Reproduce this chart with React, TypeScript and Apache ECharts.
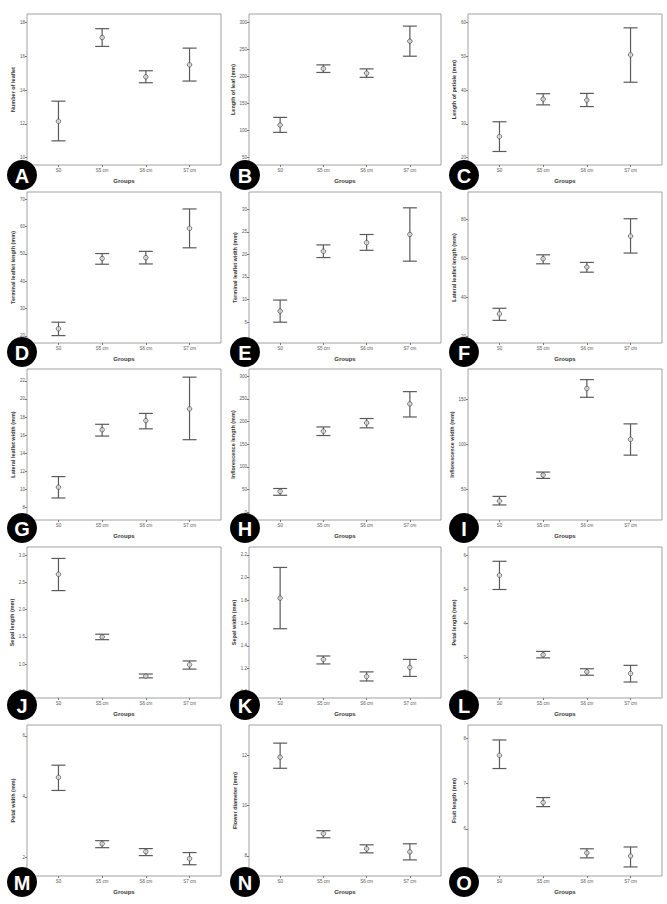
import React, { useEffect, useRef } from "react";
import * as echarts from "echarts";

const categories = ["S0", "S5 cm", "S6 cm", "S7 cm"];

const leafletMean = [12.15, 17.11, 14.78, 15.49];
const leafletLow = [10.99, 16.58, 14.43, 14.53];
const leafletHigh = [13.34, 17.63, 15.14, 16.48];
const leafletTicks = [10, 12, 14, 16, 18];

const leafLenMean = [109.9, 214, 205.6, 264.8];
const leafLenLow = [96.3, 207, 198, 237];
const leafLenHigh = [124, 221, 213.6, 292.6];
const leafLenTicks = [50, 100, 150, 200, 250, 300];

const petioleMean = [26.2, 37.3, 37.0, 50.4];
const petioleLow = [21.8, 35.6, 35.1, 42.3];
const petioleHigh = [30.6, 38.9, 39.0, 58.4];
const petioleTicks = [20, 30, 40, 50, 60];

const termLenMean = [22.6, 48.3, 48.6, 59.3];
const termLenLow = [20.1, 46.2, 46.3, 52.2];
const termLenHigh = [25.0, 50.1, 50.9, 66.4];
const termLenTicks = [20, 30, 40, 50, 60, 70];

const termWidMean = [7.45, 20.7, 22.6, 24.4];
const termWidLow = [5.0, 19.3, 20.9, 18.5];
const termWidHigh = [9.9, 22.1, 24.4, 30.3];
const termWidTicks = [5, 10, 15, 20, 25, 30];

const latLenMean = [31.5, 59.8, 55.5, 71.4];
const latLenLow = [28.2, 57.2, 52.9, 62.7];
const latLenHigh = [34.4, 61.8, 57.9, 80.3];
const latLenTicks = [20, 40, 60, 80];

const latWidMean = [10.26, 16.6, 17.6, 18.9];
const latWidLow = [9.07, 15.9, 16.7, 15.5];
const latWidHigh = [11.43, 17.2, 18.4, 22.4];
const latWidTicks = [8, 10, 12, 14, 16, 18, 20, 22];

const inflLenMean = [45.6, 178.7, 197, 239];
const inflLenLow = [37, 169, 186, 210];
const inflLenHigh = [52, 188, 206.6, 266];
const inflLenTicks = [0, 50, 100, 150, 200, 250, 300];

const inflWidMean = [37, 65.9, 162, 105.5];
const inflWidLow = [32.7, 62.2, 152.2, 88];
const inflWidHigh = [42.2, 69.2, 171.8, 122.7];
const inflWidTicks = [50, 100, 150];

const sepLenMean = [2.65, 1.5, 0.78, 0.99];
const sepLenLow = [2.35, 1.45, 0.75, 0.91];
const sepLenHigh = [2.94, 1.55, 0.82, 1.06];
const sepLenTicks = [0.5, 1.0, 1.5, 2.0, 2.5, 3.0];

const sepWidMean = [1.82, 1.28, 1.13, 1.21];
const sepWidLow = [1.55, 1.24, 1.09, 1.13];
const sepWidHigh = [2.09, 1.31, 1.17, 1.28];
const sepWidTicks = [1.0, 1.2, 1.4, 1.6, 1.8, 2.0, 2.2];

const petLenMean = [5.42, 3.08, 2.58, 2.53];
const petLenLow = [5.0, 2.99, 2.48, 2.28];
const petLenHigh = [5.83, 3.18, 2.67, 2.77];
const petLenTicks = [2, 3, 4, 5, 6];

const petWidMean = [4.64, 2.46, 2.2, 1.97];
const petWidLow = [4.21, 2.33, 2.07, 1.77];
const petWidHigh = [5.04, 2.56, 2.3, 2.17];
const petWidTicks = [2, 4, 6];

const flowerMean = [11.92, 8.88, 8.28, 8.16];
const flowerLow = [11.48, 8.72, 8.12, 7.84];
const flowerHigh = [12.48, 9.0, 8.44, 8.48];
const flowerTicks = [8, 10, 12];

const fruitMean = [7.62, 6.58, 5.47, 5.4];
const fruitLow = [7.33, 6.49, 5.36, 5.16];
const fruitHigh = [7.96, 6.69, 5.56, 5.6];
const fruitTicks = [5, 6, 7, 8];

type Panel = {
  letter: string;
  name: string;
  mean: number[];
  low: number[];
  high: number[];
  ticks: number[];
  min: number;
  max: number;
  dec: number;
};

const panels: Panel[] = [
  { letter: "A", name: "Number of leaflet", mean: leafletMean, low: leafletLow, high: leafletHigh, ticks: leafletTicks, min: 9.56, max: 18.5, dec: 0 },
  { letter: "B", name: "Length of leaf (mm)", mean: leafLenMean, low: leafLenLow, high: leafLenHigh, ticks: leafLenTicks, min: 36, max: 315, dec: 0 },
  { letter: "C", name: "Length of petiole (mm)", mean: petioleMean, low: petioleLow, high: petioleHigh, ticks: petioleTicks, min: 17.8, max: 62.5, dec: 0 },
  { letter: "D", name: "Terminal leaflet length (mm)", mean: termLenMean, low: termLenLow, high: termLenHigh, ticks: termLenTicks, min: 17.4, max: 72.6, dec: 0 },
  { letter: "E", name: "Terminal leaflet width (mm)", mean: termWidMean, low: termWidLow, high: termWidHigh, ticks: termWidTicks, min: 0.4, max: 33.8, dec: 0 },
  { letter: "F", name: "Lateral leaflet length (mm)", mean: latLenMean, low: latLenLow, high: latLenHigh, ticks: latLenTicks, min: 16.6, max: 94, dec: 0 },
  { letter: "G", name: "Lateral leaflet width (mm)", mean: latWidMean, low: latWidLow, high: latWidHigh, ticks: latWidTicks, min: 6.64, max: 23.3, dec: 0 },
  { letter: "H", name: "Inflorescence length (mm)", mean: inflLenMean, low: inflLenLow, high: inflLenHigh, ticks: inflLenTicks, min: -17.6, max: 316, dec: 0 },
  { letter: "I", name: "Inflorescence width (mm)", mean: inflWidMean, low: inflWidLow, high: inflWidHigh, ticks: inflWidTicks, min: 16, max: 183.6, dec: 0 },
  { letter: "J", name: "Sepal length (mm)", mean: sepLenMean, low: sepLenLow, high: sepLenHigh, ticks: sepLenTicks, min: 0.38, max: 3.15, dec: 1 },
  { letter: "K", name: "Sepal width (mm)", mean: sepWidMean, low: sepWidLow, high: sepWidHigh, ticks: sepWidTicks, min: 0.94, max: 2.27, dec: 1 },
  { letter: "L", name: "Petal length (mm)", mean: petLenMean, low: petLenLow, high: petLenHigh, ticks: petLenTicks, min: 1.81, max: 6.25, dec: 0 },
  { letter: "M", name: "Petal width (mm)", mean: petWidMean, low: petWidLow, high: petWidHigh, ticks: petWidTicks, min: 1.4, max: 6.36, dec: 0 },
  { letter: "N", name: "Flower diameter (mm)", mean: flowerMean, low: flowerLow, high: flowerHigh, ticks: flowerTicks, min: 7.2, max: 13.2, dec: 0 },
  { letter: "O", name: "Fruit length (mm)", mean: fruitMean, low: fruitLow, high: fruitHigh, ticks: fruitTicks, min: 4.96, max: 8.29, dec: 0 },
];

const colLeft = [27, 249, 468];
const colWidth = [194, 192, 194];
const rowTop = [14, 192, 369, 547, 725];
const boxHeight = 151;
const circleX = [22, 245, 464];
const circleY = [175, 352, 528, 705, 882];

const FONT = "Liberation Sans, Arial, sans-serif";
const BAR = "#5a5a5a";

export default function App() {
  const ref = useRef<HTMLDivElement>(null);
  useEffect(() => {
    if (!ref.current) return;
    const chart = echarts.init(ref.current, undefined, { renderer: "svg" });
    const grids: any[] = [];
    const xAxes: any[] = [];
    const yAxes: any[] = [];
    const series: any[] = [];
    const graphics: any[] = [];
    panels.forEach((p, i) => {
      const c = i % 3;
      const r = Math.floor(i / 3);
      grids.push({
        left: colLeft[c],
        top: rowTop[r],
        width: colWidth[c],
        height: boxHeight,
        show: true,
        borderColor: "#a0a0a0",
        borderWidth: 1,
        backgroundColor: "#fff",
      });
      xAxes.push({
        type: "value",
        gridIndex: i,
        position: "bottom",
        min: -0.72,
        max: 3.72,
        name: "Groups",
        nameLocation: "middle",
        nameGap: 13,
        nameTextStyle: { fontFamily: FONT, fontSize: 6, fontWeight: "bold", color: "#333" },
        axisLine: { show: false, onZero: false },
        splitLine: { show: false },
        axisTick: { show: true, customValues: [0, 1, 2, 3], length: 2, lineStyle: { color: "#777" } },
        axisLabel: {
          customValues: [0, 1, 2, 3],
          formatter: (v: number) => categories[Math.round(v)],
          fontFamily: FONT,
          fontSize: 4.5,
          color: "#555",
          margin: 3,
        },
      });
      yAxes.push({
        type: "value",
        gridIndex: i,
        position: "left",
        min: p.min,
        max: p.max,
        name: p.name,
        nameLocation: "middle",
        nameGap: 11,
        nameRotate: 90,
        nameTextStyle: { fontFamily: FONT, fontSize: 5.5, fontWeight: "bold", color: "#333" },
        axisLine: { show: false, onZero: false },
        splitLine: { show: false },
        axisTick: { show: true, customValues: p.ticks, length: 2, lineStyle: { color: "#777" } },
        axisLabel: {
          customValues: p.ticks,
          formatter: (v: number) => v.toFixed(p.dec),
          fontFamily: FONT,
          fontSize: 4.5,
          color: "#555",
          margin: 2,
        },
      });
      series.push({
        type: "custom",
        xAxisIndex: i,
        yAxisIndex: i,
        data: p.low.map((lo, k) => [k, lo, p.high[k]]),
        encode: { x: 0, y: [1, 2] },
        renderItem: (_params: any, api: any) => {
          const x = api.value(0);
          const a = api.coord([x, api.value(1)]);
          const b = api.coord([x, api.value(2)]);
          const cap = 7;
          const st = { stroke: BAR, lineWidth: 1.2 };
          return {
            type: "group",
            children: [
              { type: "line", shape: { x1: a[0], y1: a[1], x2: b[0], y2: b[1] }, style: st },
              { type: "line", shape: { x1: a[0] - cap, y1: a[1], x2: a[0] + cap, y2: a[1] }, style: st },
              { type: "line", shape: { x1: b[0] - cap, y1: b[1], x2: b[0] + cap, y2: b[1] }, style: st },
            ],
          };
        },
        z: 2,
      });
      series.push({
        type: "scatter",
        xAxisIndex: i,
        yAxisIndex: i,
        data: p.mean.map((m, k) => [k, m]),
        symbol: "circle",
        symbolSize: 4.5,
        itemStyle: { color: "#ddd", borderColor: "#555", borderWidth: 1 },
        z: 3,
      });
      graphics.push({
        type: "circle",
        shape: { cx: circleX[c], cy: circleY[r], r: 15 },
        style: { fill: "#000" },
        z: 100,
      });
      graphics.push({
        type: "text",
        x: circleX[c],
        y: circleY[r] + 1,
        style: {
          text: p.letter,
          fill: "#fff",
          font: `bold 20px ${FONT}`,
          textAlign: "center",
          textVerticalAlign: "middle",
        },
        z: 101,
      });
    });
    chart.setOption({
      animation: false,
      backgroundColor: "#fff",
      grid: grids,
      xAxis: xAxes,
      yAxis: yAxes,
      series,
      graphic: graphics,
    });
    return () => chart.dispose();
  }, []);
  return (
    <div
      ref={ref}
      style={{ position: "absolute", left: 0, top: 0, width: 667, height: 904 }}
    />
  );
}
